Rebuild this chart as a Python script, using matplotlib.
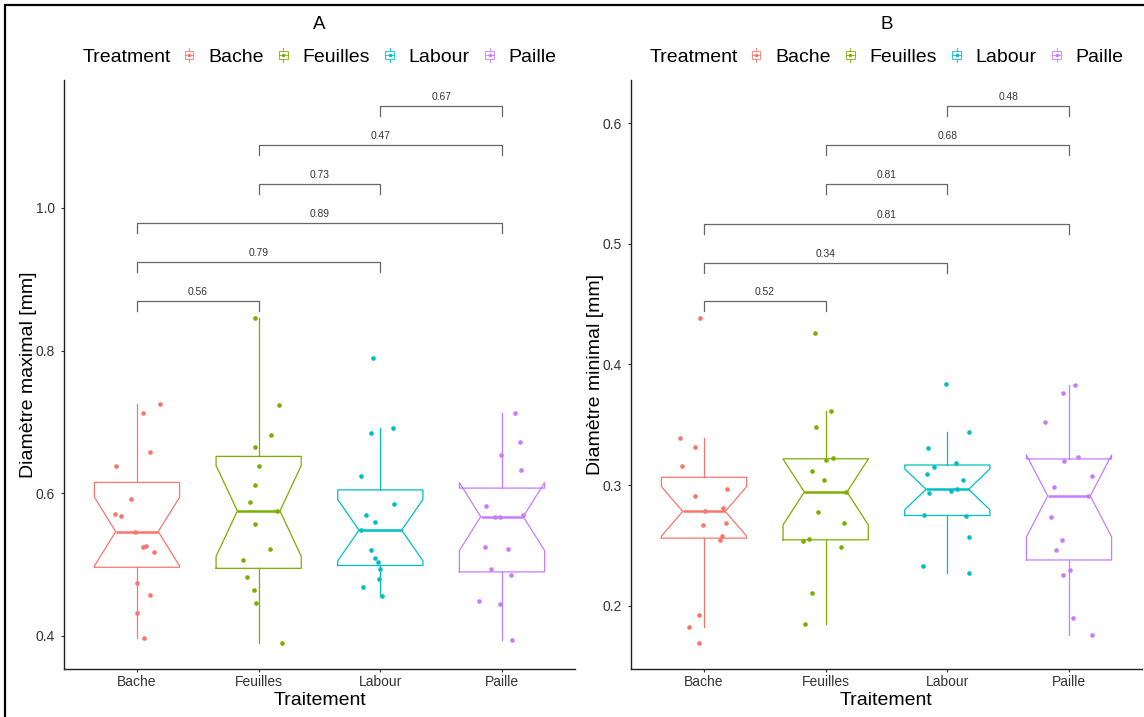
import matplotlib
matplotlib.use('Agg')
import matplotlib.pyplot as plt
import numpy as np
from matplotlib.lines import Line2D
from matplotlib.patches import Rectangle
from matplotlib.legend_handler import HandlerBase
from matplotlib.ticker import FormatStrFormatter

plt.rcParams['font.family'] = ['Liberation Sans', 'DejaVu Sans']

groups = ['Bache', 'Feuilles', 'Labour', 'Paille']
colors = ['#F8766D', '#7CAE00', '#00BFC4', '#C77CFF']

# panel A : diametre maximal (mm), one value per plant, with the jitter
max_bache = [0.725, 0.713, 0.658, 0.638, 0.592, 0.571, 0.568, 0.546, 0.524, 0.526, 0.518, 0.474, 0.457, 0.432, 0.397]
max_feuilles = [0.846, 0.724, 0.682, 0.665, 0.638, 0.611, 0.588, 0.575, 0.556, 0.521, 0.506, 0.483, 0.464, 0.446, 0.390]
max_labour = [0.790, 0.692, 0.685, 0.624, 0.585, 0.569, 0.560, 0.548, 0.520, 0.509, 0.503, 0.494, 0.480, 0.469, 0.456]
max_paille = [0.713, 0.671, 0.653, 0.632, 0.582, 0.567, 0.569, 0.567, 0.525, 0.522, 0.494, 0.485, 0.448, 0.445, 0.394]
jit_max_bache = [0.19, 0.05, 0.11, -0.17, -0.05, -0.18, -0.13, -0.02, 0.05, 0.07, 0.14, 0.00, 0.11, 0.00, 0.06]
jit_max_feuilles = [-0.03, 0.17, 0.10, -0.03, 0.00, -0.03, -0.07, 0.15, -0.03, 0.09, -0.13, -0.10, -0.04, -0.02, 0.19]
jit_max_labour = [-0.06, 0.10, -0.08, -0.16, 0.11, -0.12, -0.04, -0.16, -0.08, -0.04, -0.02, 0.00, -0.01, -0.14, 0.01]
jit_max_paille = [0.11, 0.15, -0.01, 0.16, -0.13, -0.02, 0.17, -0.06, -0.14, 0.05, -0.09, 0.07, -0.19, -0.02, 0.08]

# panel B : diametre minimal (mm)
min_bache = [0.4388, 0.3391, 0.3313, 0.3161, 0.2968, 0.2910, 0.2813, 0.2782, 0.2686, 0.2666, 0.2575, 0.2545, 0.1923, 0.1823, 0.1693]
min_feuilles = [0.4264, 0.3617, 0.3482, 0.3211, 0.3225, 0.3114, 0.3040, 0.2943, 0.2777, 0.2688, 0.2539, 0.2553, 0.2487, 0.2103, 0.1851]
min_labour = [0.3836, 0.3443, 0.3310, 0.3150, 0.3183, 0.3095, 0.3045, 0.2937, 0.2951, 0.2965, 0.2752, 0.2744, 0.2570, 0.2326, 0.2268]
min_paille = [0.3830, 0.3766, 0.3526, 0.3233, 0.3200, 0.3075, 0.2987, 0.2910, 0.2733, 0.2542, 0.2459, 0.2299, 0.2255, 0.1901, 0.1760]
jit_min_bache = [-0.03, -0.20, -0.07, -0.18, 0.19, -0.07, 0.16, 0.01, 0.18, -0.01, 0.15, 0.13, -0.04, -0.12, -0.04]
jit_min_feuilles = [-0.09, 0.04, -0.08, 0.00, 0.06, -0.11, -0.01, 0.17, -0.06, 0.15, -0.19, -0.14, 0.13, -0.11, -0.17]
jit_min_labour = [-0.01, 0.18, -0.16, -0.11, 0.07, -0.17, 0.13, -0.15, 0.03, 0.08, -0.19, 0.15, 0.18, -0.20, 0.18]
jit_min_paille = [0.05, -0.05, -0.20, 0.07, -0.04, 0.19, -0.12, 0.16, -0.15, -0.06, -0.11, 0.01, -0.05, 0.03, 0.19]

# pairwise comparisons (wilcoxon p-values) and bracket heights
pairs = [(0, 1), (0, 2), (0, 3), (1, 2), (1, 3), (2, 3)]
p_max = ['0.56', '0.79', '0.89', '0.73', '0.47', '0.67']
p_min = ['0.52', '0.34', '0.81', '0.81', '0.68', '0.48']
bracket_max = [0.8694, 0.9237, 0.9784, 1.0331, 1.0878, 1.1429]
bracket_min = [0.4524, 0.4844, 0.5167, 0.5494, 0.5818, 0.6143]

W, H = 1144, 717
fig = plt.figure(figsize=(W / 100, H / 100), dpi=100)


class BoxKey(HandlerBase):
    def create_artists(self, legend, orig_handle, xdescent, ydescent, width, height, fontsize, trans):
        c = orig_handle.get_color()
        cx = -xdescent + width / 2
        cy = -ydescent + height / 2
        bh = height * 0.6
        arts = [Rectangle((cx - width / 2, cy - bh / 2), width, bh, fill=False, ec=c, lw=0.8, alpha=0.8),
                Line2D([cx - width / 2, cx + width / 2], [cy, cy], color=c, lw=0.8, alpha=0.8),
                Line2D([cx, cx], [cy + bh / 2, cy + height * 0.5], color=c, lw=0.8, alpha=0.8),
                Line2D([cx, cx], [cy - bh / 2, cy - height * 0.5], color=c, lw=0.8, alpha=0.8),
                Line2D([cx], [cy], marker='o', ms=2.5, mew=0, color=c)]
        for a in arts:
            a.set_transform(trans)
        return arts


def draw_panel(left_px, data, jits, ylim, yticks, ylabel, pvals, ys, title):
    ax = fig.add_axes([left_px / W, (H - 669) / H, 511 / W, 589 / H])
    bp = ax.boxplot(data, positions=range(4), widths=0.7, notch=True, showfliers=False,
                    showcaps=False, manage_ticks=False)
    for i, c in enumerate(colors):
        bp['boxes'][i].set(color=c, lw=0.9)
        bp['medians'][i].set(color=c, lw=1.8)
        for w in bp['whiskers'][2 * i:2 * i + 2]:
            w.set(color=c, lw=0.9)
        ax.scatter(i + np.array(jits[i]), data[i], s=11, color=c, linewidths=0, zorder=3)

    tip = 0.017 * (ylim[1] - ylim[0])
    for (i, j), lab, y in zip(pairs, pvals, ys):
        ax.plot([i, i, j, j], [y - tip, y, y, y - tip], color='#666666', lw=0.9)
        ax.annotate(lab, ((i + j) / 2, y), xytext=(0, 6.5), textcoords='offset points',
                    ha='center', va='center', fontsize=7.4, color='#333333')

    ax.set_xlim(-0.6, 3.6)
    ax.set_ylim(*ylim)
    ax.set_xticks(range(4))
    ax.set_xticklabels(groups)
    ax.set_yticks(yticks)
    ax.yaxis.set_major_formatter(FormatStrFormatter('%.1f'))
    for s in ['top', 'right']:
        ax.spines[s].set_visible(False)
    for s in ['left', 'bottom']:
        ax.spines[s].set(color='#222222', lw=1.0)
    ax.tick_params(axis='both', length=2.5, width=0.8, color='#333333', labelsize=10, labelcolor='#333333')
    ax.tick_params(axis='x', pad=1.5)
    ax.tick_params(axis='y', pad=4)
    ax.set_xlabel('Traitement', fontsize=14)
    ax.set_ylabel(ylabel, fontsize=14)
    ax.xaxis.set_label_coords(0.5, -0.039)
    ax.yaxis.set_label_coords(-0.053, 0.5)

    center = left_px + 511 / 2
    fig.text(center / W, 1 - 29.3 / H, title, ha='center', va='baseline', fontsize=13.5)

    # legend line : "Treatment" followed by the four keys, centred over the panel
    keys = [Line2D([], [], color=c) for c in colors]
    ty = 1 - 57 / H
    t = fig.text(0, ty, 'Treatment', ha='left', va='center', fontsize=14)
    leg = fig.legend(keys, groups, loc='center left', bbox_to_anchor=(0, ty), frameon=False,
                     ncol=4, fontsize=14, handlelength=0.45, handleheight=0.7, handletextpad=0.75,
                     columnspacing=0.8, borderpad=0, borderaxespad=0,
                     handler_map={Line2D: BoxKey()})
    r = fig.canvas.get_renderer()
    tw = t.get_window_extent(r).width
    lw = leg.get_window_extent(r).width
    gap = 14
    x0 = center - (tw + gap + lw) / 2
    t.set_x(x0 / W)
    leg.set_bbox_to_anchor(((x0 + tw + gap) / W, ty), transform=fig.transFigure)
    return ax


draw_panel(64, [max_bache, max_feuilles, max_labour, max_paille],
           [jit_max_bache, jit_max_feuilles, jit_max_labour, jit_max_paille],
           (0.3533, 1.1794), [0.4, 0.6, 0.8, 1.0], 'Diamètre maximal [mm]', p_max, bracket_max, 'A')
draw_panel(631, [min_bache, min_feuilles, min_labour, min_paille],
           [jit_min_bache, jit_min_feuilles, jit_min_labour, jit_min_paille],
           (0.1475, 0.6359), [0.2, 0.3, 0.4, 0.5, 0.6], 'Diamètre minimal [mm]', p_min, bracket_min, 'B')

# black frame around the figure (cut on the right and bottom edges)
fig.patches.append(Rectangle((5 / W, -0.05), 1.1, 1 - 5 / H + 0.05, transform=fig.transFigure,
                             fill=False, ec='black', lw=1.6))

fig.savefig('out.png', dpi=100)
